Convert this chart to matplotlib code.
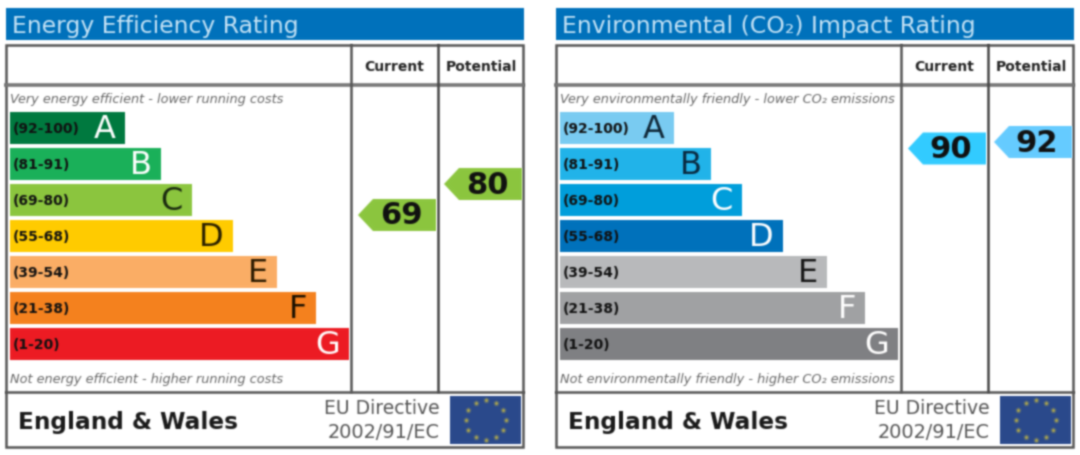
# EPC style rating graphs, two panels side by side
import numpy as np
import matplotlib
matplotlib.use("Agg")
import matplotlib.pyplot as plt
from matplotlib.patches import Polygon, Rectangle

plt.rcParams["font.family"] = ["DejaVu Sans"]

bandas = ["A", "B", "C", "D", "E", "F", "G"]
rangos = ["(92-100)", "(81-91)", "(69-80)", "(55-68)", "(39-54)", "(21-38)", "(1-20)"]

# largo de las barras
largo_energia = [115, 151, 182, 223, 267, 306, 339]
largo_ambiente = [114, 151, 182, 223, 267, 305, 338]

colores_energia = ["#007a40", "#1bb05a", "#8cc63f", "#ffcc00", "#fbae66", "#f5821f", "#ed1c24"]
colores_ambiente = ["#7accf2", "#22b4ea", "#009fdc", "#0072bc", "#b9babc", "#a1a2a4", "#808184"]
letras_energia = ["white", "white", "#1a2a10", "#2a2000", "#2a1a00", "#1a1000", "white"]
letras_ambiente = ["#102838", "#0a2a40", "white", "white", "#151515", "white", "white"]

energia_actual = 69
energia_potencial = 80
ambiente_actual = 90
ambiente_potencial = 92

# escala de puntaje a altura de la flecha
puntaje_ref = [69, 80, 90, 92]
altura_ref = [215, 184, 148.5, 142]

fig = plt.figure(figsize=(10.8, 4.55), dpi=100)
ax = fig.add_axes([0, 0, 1, 1])
ax.set_xlim(0, 1080)
ax.set_ylim(455, 0)
ax.axis("off")


def desenfoque(img, dpi, sigma=0.8):
    # la imagen original esta borrosa, se suaviza cada elemento
    pad = 4
    out = np.pad(img, ((pad, pad), (pad, pad), (0, 0)))
    out[..., :3] *= out[..., 3:]
    pesos = np.exp(-0.5 * (np.arange(-3, 4) / sigma) ** 2)
    pesos /= pesos.sum()
    for eje in (0, 1):
        out = sum(w * np.roll(out, d, axis=eje) for d, w in zip(range(-3, 4), pesos))
    alfa = out[..., 3:]
    out[..., :3] = np.where(alfa > 0, out[..., :3] / np.maximum(alfa, 1e-6), 0)
    return np.clip(out, 0, 1), -pad, -pad


def flecha(x0, valor, color):
    y = np.interp(valor, puntaje_ref, altura_ref)
    ax.add_patch(Polygon([(x0, y), (x0 + 15, y - 16), (x0 + 78, y - 16), (x0 + 78, y + 16), (x0 + 15, y + 16)],
                         closed=True, fc=color, ec="none", zorder=3))
    ax.text(x0 + 43, y + 1, str(valor), fontsize=22, fontweight="bold", color="#111111",
            ha="center", va="center", zorder=4)


def panel(x0, titulo, arriba, abajo, largos, colores, letras, actual, potencial, color_act, color_pot):
    # banda del titulo
    ax.add_patch(Rectangle((x0, 8), 518, 32, fc="#0072bc", ec="none"))
    ax.text(x0 + 6, 26, titulo, fontsize=16.9, color="#c5e3f6", va="center", ha="left")

    # marco y columnas
    ax.add_patch(Rectangle((x0, 45), 517, 402, ec="#555555", lw=1.8, zorder=2.5, fill=False))
    ax.plot([x0, x0 + 517], [85, 85], color="#777777", lw=2.6, zorder=2.5)
    ax.plot([x0, x0 + 517], [391.5, 391.5], color="#555555", lw=1.8, zorder=2.5)
    ax.plot([x0 + 345, x0 + 345], [45, 391], color="#555555", lw=1.8, zorder=2.5)
    ax.plot([x0 + 431.5, x0 + 431.5], [45, 391], color="#444444", lw=1.8, zorder=2.5)
    ax.text(x0 + 388.5, 67, "Current", fontsize=10, fontweight="bold", color="#222222", ha="center", va="center")
    ax.text(x0 + 475, 67, "Potential", fontsize=10, fontweight="bold", color="#222222", ha="center", va="center")

    ax.text(x0 + 4, 99, arriba, fontsize=9.3, style="italic", color="#666666", va="center")
    ax.text(x0 + 4, 379, abajo, fontsize=9.3, style="italic", color="#666666", va="center")

    # barras
    pos = 128 + 36 * np.arange(len(bandas))
    ax.barh(pos, largos, height=32, left=x0 + 4, color=colores, zorder=2)
    for p, r in zip(pos, rangos):
        ax.text(x0 + 7, p + 1, r, fontsize=10, fontweight="bold", color="#111111", va="center", zorder=3)
    for p, l, b, c in zip(pos, largos, bandas, letras):
        ax.text(x0 + l - 5, p + 1, b, fontsize=23, color=c, ha="right", va="center", zorder=3)

    flecha(x0 + 352, actual, color_act)
    flecha(x0 + 438, potencial, color_pot)

    # pie
    ax.text(x0 + 12, 422, "England & Wales", fontsize=16.7, fontweight="bold", color="#1a1a1a", va="center")
    ax.text(x0 + 434, 409, "EU Directive", fontsize=13.5, color="#555555", ha="right", va="center")
    ax.text(x0 + 434, 432, "2002/91/EC", fontsize=13.9, color="#555555", ha="right", va="center")
    ax.add_patch(Rectangle((x0 + 444, 396), 71, 48, fc="#2b4a8c", ec="none", zorder=3))
    ang = np.deg2rad(np.arange(0, 360, 30))
    ax.scatter(x0 + 479.5 + 20 * np.cos(ang), 420 + 20 * np.sin(ang), marker="*", s=18, color="#d9c63a",
               linewidths=0, zorder=4)


panel(6, "Energy Efficiency Rating", "Very energy efficient - lower running costs",
      "Not energy efficient - higher running costs", largo_energia, colores_energia, letras_energia,
      energia_actual, energia_potencial, "#8cc63f", "#8cc63f")
panel(556, "Environmental (CO\u2082) Impact Rating", "Very environmentally friendly - lower CO\u2082 emissions",
      "Not environmentally friendly - higher CO\u2082 emissions", largo_ambiente, colores_ambiente, letras_ambiente,
      ambiente_actual, ambiente_potencial, "#33ccff", "#66ccff")

for a in ax.get_children():
    if a in (ax.patch, ax.xaxis, ax.yaxis) or a in ax.spines.values():
        continue
    a.set_agg_filter(desenfoque)

fig.savefig("out.png", dpi=100)
